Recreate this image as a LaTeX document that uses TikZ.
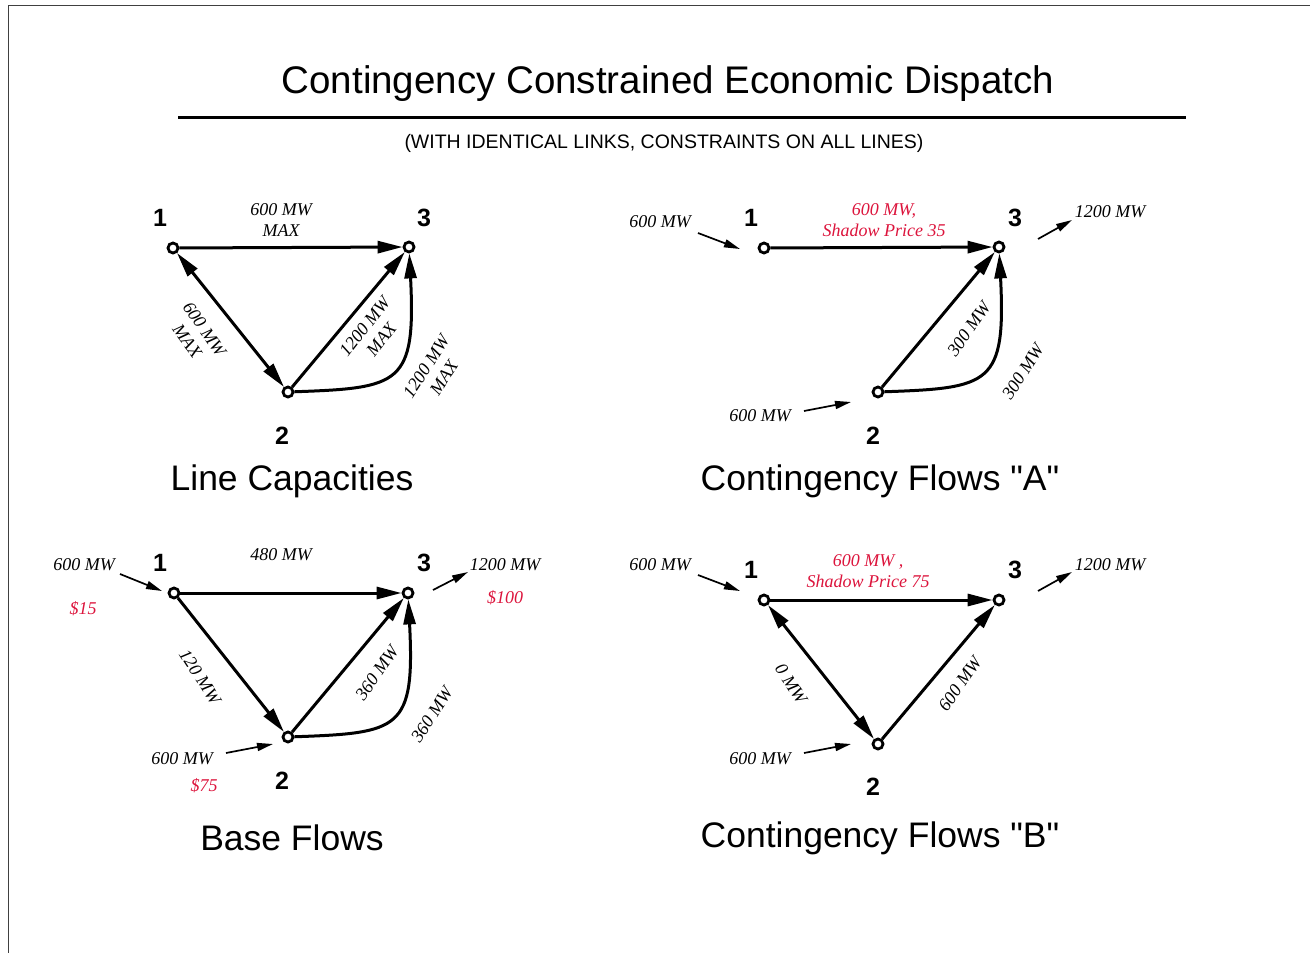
\documentclass[tikz,border=0pt]{standalone}
\usepackage{fontspec}
\setmainfont{Liberation Serif}
\setsansfont{Liberation Sans}
\newfontfamily\plainsans{Liberation Sans}
\usetikzlibrary{arrows.meta,positioning}
\definecolor{pricered}{RGB}{220,20,60}

\begin{document}
\begin{tikzpicture}[x=1pt, y=-1pt,
    bus/.style={circle, draw, line width=2.8pt, fill=white, inner sep=0pt, minimum size=10pt},
    busnum/.style={font=\sffamily\bfseries\fontsize{25}{28}\selectfont},
    branch/.style={line width=3pt, -{Triangle[length=25pt,width=12pt]}},
    twoway/.style={line width=3pt, {Triangle[length=25pt,width=12pt]}-{Triangle[length=25pt,width=12pt]}},
    inj/.style={line width=1.7pt, -{Triangle[length=16pt,width=8pt]}},
    flow/.style={font=\itshape\fontsize{18}{21}\selectfont, align=center},
    price/.style={flow, text=pricered},
    caption/.style={font=\plainsans\fontsize{35.5}{40}\selectfont}]
    \useasboundingbox (0,0) rectangle (1310,953);
    % Frame
    \draw[line width=1pt, black!75] (8,953) -- (8,5) -- (1310,5);

    % Title
    \node (title) at (668,84) {\sffamily\fontsize{38.5}{44}\selectfont Contingency Constrained Economic Dispatch};
    \draw[line width=3pt] (178,117) -- (1186,117);
    \node (subtitle) at (664,143) {\sffamily\fontsize{19.5}{22}\selectfont (WITH IDENTICAL LINKS, CONSTRAINTS ON ALL LINES)};

    % Line Capacities
    \node (c1) [bus] at (173,248) {};
    \node (c3) [bus] at (409,247) {};
    \node (c2) [bus] at (288,392) {};
    \node (c1num) [busnum] at (160,218) {1};
    \node (c3num) [busnum] at (424,218) {3};
    \node (c2num) [busnum] at (282,436) {2};
    \draw[branch] (c1) -- (c3);
    \draw[twoway] (c1) -- (c2);
    \draw[branch] (c2) -- (c3);
    \draw[branch] (c2) .. controls (400,388) and (416,385) .. (c3);
    \node (c13lab) [flow] at (281,220) {600 MW\\MAX};
    \node (c12lab) [flow, rotate=-55] at (196,335) {600 MW\\MAX};
    \node (c23lab) [flow, rotate=52] at (373,333) {1200 MW\\MAX};
    \node (c23blab) [flow, rotate=57] at (435,372) {1200 MW\\MAX};
    \node (ccap) [caption] at (292,481) {Line Capacities};

    % Contingency Flows A
    \node (a1) [bus] at (764,248) {};
    \node (a3) [bus] at (999,247) {};
    \node (a2) [bus] at (878,392) {};
    \node (a1num) [busnum] at (751,218) {1};
    \node (a3num) [busnum] at (1015,218) {3};
    \node (a2num) [busnum] at (873,436) {2};
    \draw[branch] (a1) -- (a3);
    \draw[branch] (a2) -- (a3);
    \draw[branch] (a2) .. controls (990,388) and (1006,385) .. (a3);
    \node (a13lab) [price] at (884,220) {600 MW,\\Shadow Price 35};
    \node (a23lab) [flow, rotate=55] at (969,329) {300 MW};
    \node (a23blab) [flow, rotate=57] at (1023,372) {300 MW};
    \node (a1gen) [flow] at (660,222) {600 MW};
    \coordinate (a1s) at (698,233);
    \coordinate (a1e) at (740,249);
    \draw[inj] (a1s) -- (a1e);
    \node (a3load) [flow] at (1110,212) {1200 MW};
    \coordinate (a3s) at (1038,239);
    \coordinate (a3e) at (1072,220);
    \draw[inj] (a3s) -- (a3e);
    \node (a2gen) [flow] at (760,416) {600 MW};
    \coordinate (a2s) at (804,411);
    \coordinate (a2e) at (851,402);
    \draw[inj] (a2s) -- (a2e);
    \node (acap) [caption] at (880,481) {Contingency Flows "A"};

    % Base Flows
    \node (b1) [bus] at (174,593) {};
    \node (b3) [bus] at (408,593) {};
    \node (b2) [bus] at (288,737) {};
    \node (b1num) [busnum] at (160,563) {1};
    \node (b3num) [busnum] at (424,563) {3};
    \node (b2num) [busnum] at (282,781) {2};
    \draw[branch] (b1) -- (b3);
    \draw[branch] (b1) -- (b2);
    \draw[branch] (b2) -- (b3);
    \draw[branch] (b2) .. controls (400,733) and (415,730) .. (b3);
    \node (b13lab) [flow] at (281,555) {480 MW};
    \node (b12lab) [flow, rotate=-57] at (200,677) {120 MW};
    \node (b23lab) [flow, rotate=55] at (377,673) {360 MW};
    \node (b23blab) [flow, rotate=57] at (432,715) {360 MW};
    \node (b1gen) [flow] at (84,565) {600 MW};
    \node (b1cost) [price] at (83,609) {\$15};
    \coordinate (b1s) at (120,574);
    \coordinate (b1e) at (162,591);
    \draw[inj] (b1s) -- (b1e);
    \node (b3load) [flow] at (505,565) {1200 MW};
    \node (b3cost) [price] at (505,598) {\$100};
    \coordinate (b3s) at (433,590);
    \coordinate (b3e) at (468,572);
    \draw[inj] (b3s) -- (b3e);
    \node (b2gen) [flow] at (182,759) {600 MW};
    \node (b2cost) [price] at (204,786) {\$75};
    \coordinate (b2s) at (226,753);
    \coordinate (b2e) at (273,744);
    \draw[inj] (b2s) -- (b2e);
    \node (bcap) [caption] at (292,838) {Base Flows};

    % Contingency Flows B
    \node (d1) [bus] at (764,600) {};
    \node (d3) [bus] at (999,600) {};
    \node (d2) [bus] at (878,744) {};
    \node (d1num) [busnum] at (751,570) {1};
    \node (d3num) [busnum] at (1015,570) {3};
    \node (d2num) [busnum] at (873,787) {2};
    \draw[branch] (d1) -- (d3);
    \draw[twoway] (d1) -- (d2);
    \draw[branch] (d2) -- (d3);
    \node (d13lab) [price] at (868,571) {600 MW ,\\Shadow Price 75};
    \node (d12lab) [flow, rotate=-57] at (791,684) {0 MW};
    \node (d23lab) [flow, rotate=55] at (960,684) {600 MW};
    \node (d1gen) [flow] at (660,565) {600 MW};
    \coordinate (d1s) at (698,575);
    \coordinate (d1e) at (740,591);
    \draw[inj] (d1s) -- (d1e);
    \node (d3load) [flow] at (1110,565) {1200 MW};
    \coordinate (d3s) at (1038,591);
    \coordinate (d3e) at (1072,572);
    \draw[inj] (d3s) -- (d3e);
    \node (d2gen) [flow] at (760,759) {600 MW};
    \coordinate (d2s) at (804,753);
    \coordinate (d2e) at (851,744);
    \draw[inj] (d2s) -- (d2e);
    \node (dcap) [caption] at (880,838) {Contingency Flows "B"};
\end{tikzpicture}
\end{document}
